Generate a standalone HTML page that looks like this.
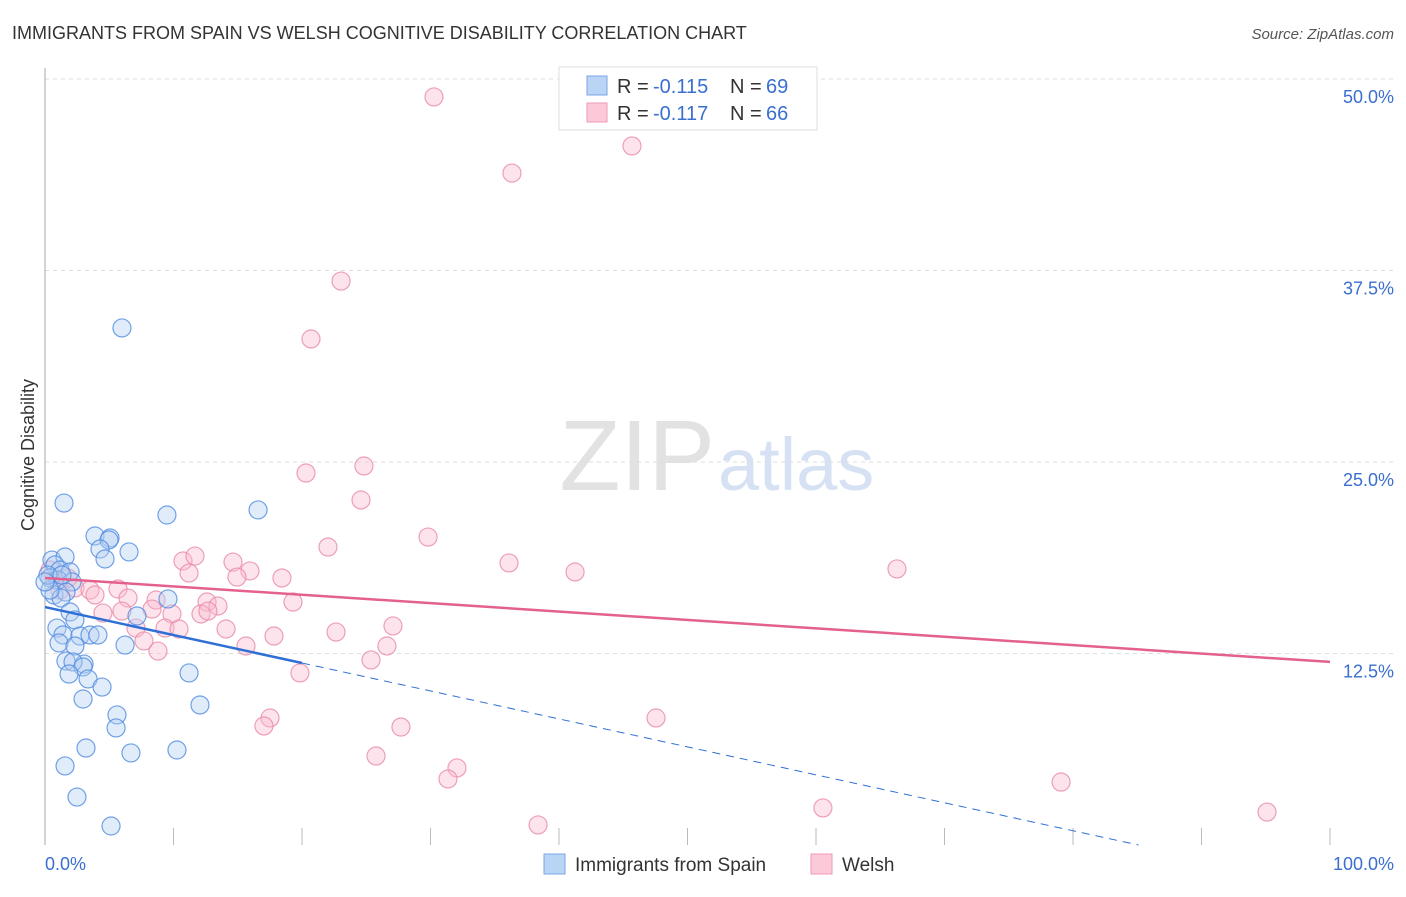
<!DOCTYPE html>
<html><head><meta charset="utf-8"><style>
body{margin:0;background:#fff;font-family:"Liberation Sans",sans-serif}
svg text{font-family:"Liberation Sans",sans-serif}
</style></head><body>
<svg width="1406" height="892" xmlns="http://www.w3.org/2000/svg">
<text x="12" y="39" font-size="18" fill="#333">IMMIGRANTS FROM SPAIN VS WELSH COGNITIVE DISABILITY CORRELATION CHART</text>
<text x="1394" y="39" font-size="15" fill="#555" font-style="italic" text-anchor="end">Source: ZipAtlas.com</text>
<text x="715" y="490" font-size="100" fill="#e2e2e2" text-anchor="end" font-family="Liberation Serif">ZIP</text>
<text x="718" y="490" font-size="74" fill="#d6e2f3">atlas</text>
<g id="grid"></g>
<g id="axes"></g>
<g id="pts"></g>
<g id="lines"></g>
<text transform="translate(34,455) rotate(-90)" font-size="18" fill="#333" text-anchor="middle">Cognitive Disability</text>
<text x="45" y="870" font-size="18" fill="#3a6fd0">0.0%</text>
<text x="1394" y="870" font-size="18" fill="#3a6fd0" text-anchor="end">100.0%</text>
<g>
<rect x="559" y="67" width="258" height="63" fill="#fff" stroke="#ddd"/>
<rect x="587" y="76" width="20" height="19" fill="#b9d4f5" stroke="#7aa6e6"/>
<rect x="587" y="103" width="20" height="19" fill="#fcc9d9" stroke="#ef9ab5"/>
<text x="617" y="93" font-size="20" fill="#333">R =</text><text x="653" y="93" font-size="20" fill="#3a6fd0">-0.115</text>
<text x="730" y="93" font-size="20" fill="#333">N =</text><text x="766" y="93" font-size="20" fill="#3a6fd0">69</text>
<text x="617" y="120" font-size="20" fill="#333">R =</text><text x="653" y="120" font-size="20" fill="#3a6fd0">-0.117</text>
<text x="730" y="120" font-size="20" fill="#333">N =</text><text x="766" y="120" font-size="20" fill="#3a6fd0">66</text>
</g>
<g>
<rect x="544" y="854" width="21" height="20" fill="#b9d4f5" stroke="#7aa6e6"/>
<text x="575" y="871" font-size="19" fill="#333">Immigrants from Spain</text>
<rect x="811" y="854" width="21" height="20" fill="#fcc9d9" stroke="#ef9ab5"/>
<text x="842" y="871" font-size="19" fill="#333">Welsh</text>
</g>
</svg>
<script>
const yTicks=[12.5,25.0,37.5,50.0];
const xTicks=[10,20,30,40,50,60,70,80,90,100];
const bluePx=[[64,503],[95,536],[110,538],[109,540],[100,549],[129,552],[105,559],[167,515],[258,510],[122,328],[52,560],[65,557],[55,565],[60,570],[70,572],[50,578],[58,580],[72,582],[54,595],[66,592],[61,598],[70,612],[75,620],[57,628],[63,635],[80,636],[90,635],[98,635],[125,645],[59,643],[75,646],[84,664],[66,661],[73,662],[83,667],[69,674],[88,679],[102,687],[168,599],[189,673],[83,699],[200,705],[117,715],[116,728],[86,748],[131,753],[177,750],[65,766],[77,797],[111,826],[137,616],[50,590],[48,575],[62,575],[45,582]];
const pinkPx=[[434,97],[632,146],[512,173],[341,281],[311,339],[306,473],[364,466],[361,500],[428,537],[509,563],[575,572],[897,569],[328,547],[183,561],[195,556],[189,573],[233,562],[250,571],[237,577],[282,578],[293,602],[118,589],[128,598],[156,600],[172,614],[152,609],[122,611],[103,613],[207,602],[218,606],[201,614],[208,611],[136,628],[165,628],[179,629],[144,641],[158,651],[226,629],[246,646],[274,636],[336,632],[393,626],[387,646],[371,660],[300,673],[270,718],[264,726],[401,727],[656,718],[376,756],[457,768],[448,779],[1061,782],[823,808],[1267,812],[538,825],[60,590],[75,588],[90,590],[55,580],[68,578],[95,595],[50,570]];
const blueX=bluePx.map(p=>+((p[0]-45)/12.85).toFixed(2));
const blueY=bluePx.map(p=>+((845-p[1])/15.32).toFixed(2));
const pinkX=pinkPx.map(p=>+((p[0]-45)/12.85).toFixed(2));
const pinkY=pinkPx.map(p=>+((845-p[1])/15.32).toFixed(2));
const blueTrend=[15.53,-0.1825];
const pinkTrend=[17.43,-0.0548];
const X=v=>45+v*12.85, Y=v=>845-v*15.32;
const NS="http://www.w3.org/2000/svg";
function mk(t,a,p){const e=document.createElementNS(NS,t);for(const k in a)e.setAttribute(k,a[k]);p.appendChild(e);return e;}
const g=document.getElementById('grid'),ax=document.getElementById('axes'),pts=document.getElementById('pts'),ln=document.getElementById('lines');
yTicks.forEach(t=>{const l=mk('line',{x1:45,x2:1394,y1:Y(t),y2:Y(t),stroke:'#ddd','stroke-dasharray':'4,4'},g);


const tx=mk('text',{x:1394,y:Y(t)+24,'font-size':18,fill:'#3a6fd0','text-anchor':'end'},g);tx.textContent=t.toFixed(1)+'%';

});
const ya=mk('line',{x1:45,x2:45,y1:68,y2:845,stroke:'#aaa'},ax);


xTicks.forEach(t=>{const l=mk('line',{x1:X(t),x2:X(t),y1:828,y2:845,stroke:'#bbb'},ax);

});
function dots(xs,ys,fill,stroke,name){xs.forEach((x,i)=>{const c=mk('circle',{cx:X(x),cy:Y(ys[i]),r:9,fill:fill,'fill-opacity':0.4,stroke:stroke,'stroke-opacity':0.8,'stroke-width':1.2},pts);

});}
dots(pinkX,pinkY,'#f9bcd0','#e98aa8','welsh-point');
dots(blueX,blueY,'#b4d0f3','#4f8be0','spain-point');
let l=mk('line',{x1:X(0),y1:Y(pinkTrend[0]),x2:X(100),y2:Y(pinkTrend[0]+100*pinkTrend[1]),stroke:'#e4608e','stroke-width':2.5},ln);


l=mk('line',{x1:X(0),y1:Y(blueTrend[0]),x2:X(20),y2:Y(blueTrend[0]+20*blueTrend[1]),stroke:'#2f6fd6','stroke-width':2.5},ln);


const xe=-blueTrend[0]/blueTrend[1];
l=mk('line',{x1:X(20),y1:Y(blueTrend[0]+20*blueTrend[1]),x2:X(xe),y2:Y(0),stroke:'#2f6fd6','stroke-width':1,'stroke-dasharray':'8,6'},ln);


</script>
</body></html>
